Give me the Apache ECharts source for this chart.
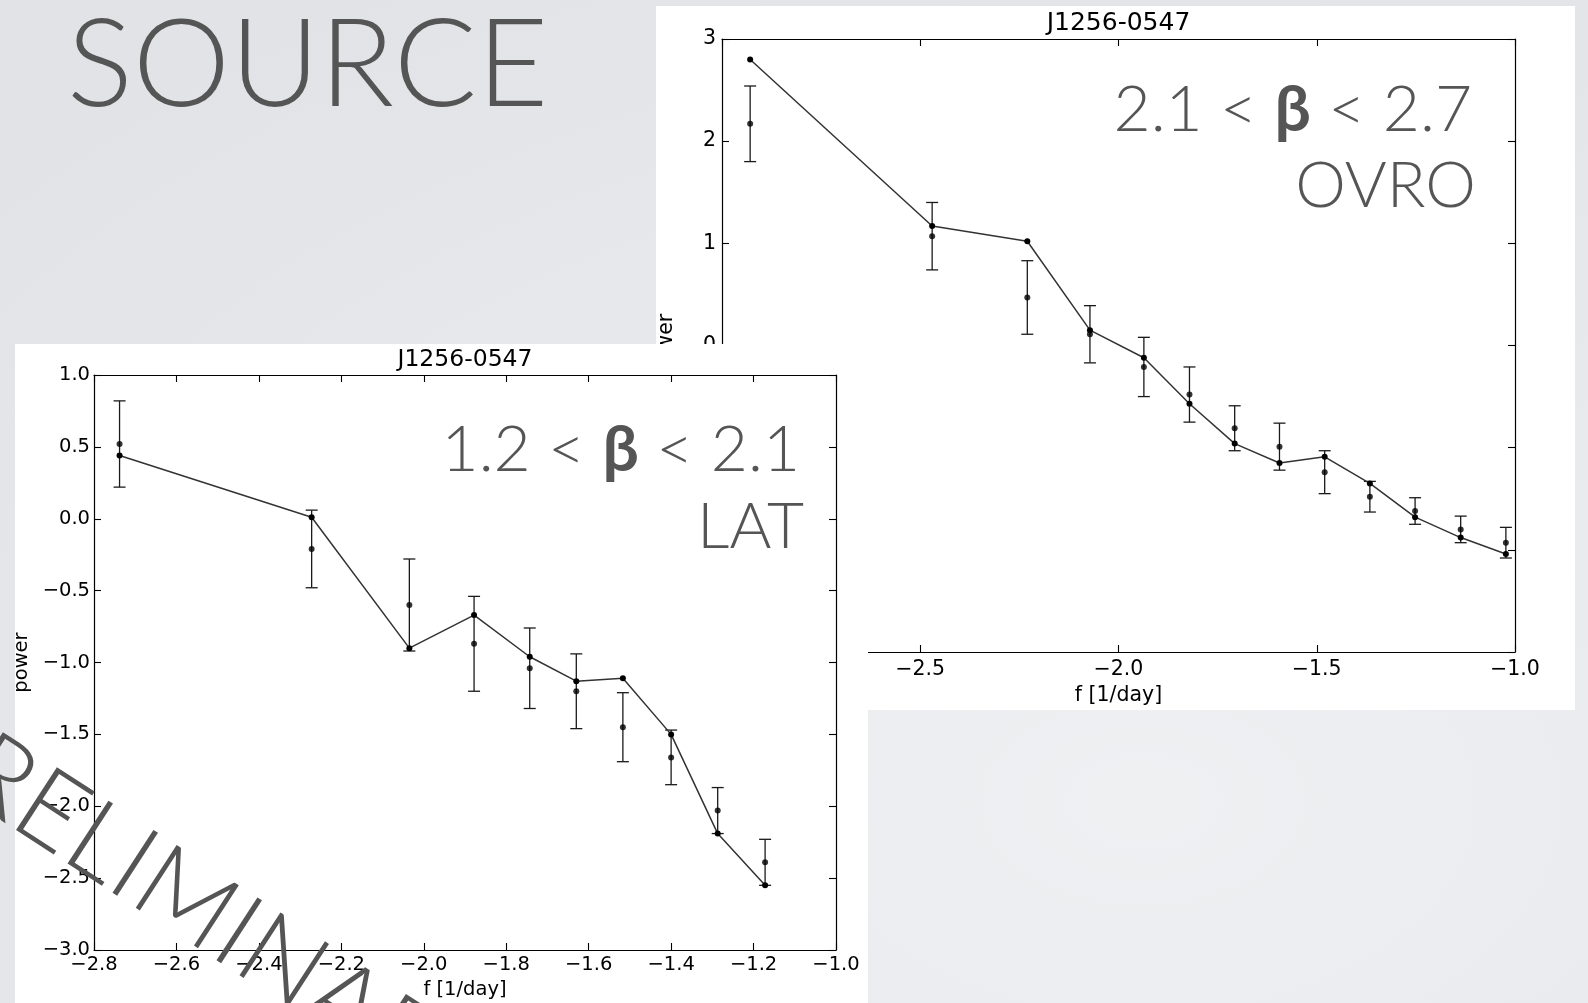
<!DOCTYPE html>
<html>
<head>
<meta charset="utf-8">
<title>SOURCE – J1256-0547 periodograms</title>
<script src="https://cdn.jsdelivr.net/npm/echarts@6/dist/echarts.min.js"></script>
<style>
  html, body { margin: 0; padding: 0; }
  body {
    width: 1588px; height: 1003px; overflow: hidden;
    background: radial-gradient(ellipse 95% 95% at 72% 80%, #eff0f2 0%, #e9eaed 45%, #e2e3e7 100%);
  }
  #slide { width: 1588px; height: 1003px; }
</style>
</head>
<body>
<div id="slide"></div>
<script>
// ---- OVRO (radio), 2.1 < beta < 2.7 ----
const ovroFreq  = [-2.929, -2.470, -2.230, -2.072, -1.936, -1.821, -1.707, -1.594, -1.480, -1.366, -1.252, -1.137, -1.023];
const ovroModel = [2.80, 1.17, 1.02, 0.15, -0.12, -0.57, -0.96, -1.15, -1.09, -1.35, -1.68, -1.88, -2.04];
const ovroPower = [2.17, 1.07, 0.47, 0.11, -0.21, -0.48, -0.81, -0.99, -1.24, -1.48, -1.62, -1.80, -1.93];
const ovroErr   = [0.37, 0.33, 0.36, 0.28, 0.29, 0.27, 0.22, 0.23, 0.21, 0.15, 0.13, 0.13, 0.15];
const ovroXAxis = [-3.0, -1.0, 0.5];   // min, max, step
const ovroYAxis = [-3, 3, 1];

// ---- LAT (gamma), 1.2 < beta < 2.1 ----
const latFreq  = [-2.738, -2.272, -2.035, -1.878, -1.743, -1.630, -1.517, -1.400, -1.287, -1.172];
const latModel = [0.44, 0.01, -0.90, -0.67, -0.96, -1.13, -1.11, -1.50, -2.19, -2.55];
const latPower = [0.52, -0.21, -0.60, -0.87, -1.04, -1.20, -1.45, -1.66, -2.03, -2.39];
const latErr   = [0.30, 0.27, 0.32, 0.33, 0.28, 0.26, 0.24, 0.19, 0.16, 0.16];
const latXAxis = [-2.8, -1.0, 0.2];
const latYAxis = [-3.0, 1.0, 0.5];

const sourceName = 'J1256-0547';

const minusSign = s => s.replace('-', '\u2212');
const fmt1 = v => minusSign((Math.round(v * 10) / 10).toFixed(1));
const fmt0 = v => minusSign(String(Math.round(v)));

const TICK = '#000';
const FONT = 'DejaVu Sans';
const SLIDE_FONT = 'Lato';
const SLIDE_GREY = '#555555';

function axis(grid, range, opts) {
  return Object.assign({
    type: 'value', gridIndex: grid,
    min: range[0], max: range[1], interval: range[2],
    axisLine: { show: true, onZero: false, lineStyle: { color: '#000', width: 1.2 } },
    axisTick: { show: true, inside: true, length: 7, lineStyle: { color: '#000', width: 1.1 } },
    splitLine: { show: false },
    axisLabel: { show: false },
    animation: false
  }, opts);
}

function labels(size, fmt, margin) {
  return { show: true, color: TICK, fontFamily: FONT, fontSize: size, margin: margin,
           formatter: fmt, showMinLabel: true, showMaxLabel: true };
}

function errorBars(freq, power, err, xi, yi, z) {
  return {
    type: 'custom', xAxisIndex: xi, yAxisIndex: yi, z: z, silent: true, clip: false,
    data: freq.map((f, i) => [f, power[i] - err[i], power[i] + err[i]]),
    encode: { x: 0, y: [1, 2] },
    renderItem(params, api) {
      const lo = api.coord([api.value(0), api.value(1)]);
      const hi = api.coord([api.value(0), api.value(2)]);
      const w = 6;
      const st = { stroke: '#1a1a1a', lineWidth: 1.3 };
      return { type: 'group', children: [
        { type: 'line', shape: { x1: lo[0], y1: lo[1], x2: hi[0], y2: hi[1] }, style: st },
        { type: 'line', shape: { x1: lo[0] - w, y1: lo[1], x2: lo[0] + w, y2: lo[1] }, style: st },
        { type: 'line', shape: { x1: hi[0] - w, y1: hi[1], x2: hi[0] + w, y2: hi[1] }, style: st }
      ]};
    }
  };
}

function modelLine(freq, model, xi, yi, z) {
  return {
    type: 'line', xAxisIndex: xi, yAxisIndex: yi, z: z, silent: true,
    data: freq.map((f, i) => [f, model[i]]),
    symbol: 'circle', symbolSize: 6, showAllSymbol: true,
    lineStyle: { color: '#333', width: 1.5 },
    itemStyle: { color: '#000', borderWidth: 0 }
  };
}

function dataPoints(freq, power, xi, yi, z) {
  return {
    type: 'scatter', xAxisIndex: xi, yAxisIndex: yi, z: z, silent: true,
    data: freq.map((f, i) => [f, power[i]]),
    symbol: 'circle', symbolSize: 6,
    itemStyle: { color: '#000' }
  };
}

function slideText(text, x, y, size, align, z, extra) {
  return Object.assign({
    type: 'text', x: x, y: y, z: z, silent: true,
    style: { text: text, fill: SLIDE_GREY, font: '300 ' + size + 'px ' + SLIDE_FONT,
             textAlign: align, textVerticalAlign: 'middle' }
  }, extra || {});
}

function betaRange(lo, hi, x, y, z) {
  return {
    type: 'text', x: x, y: y, z: z, silent: true,
    style: {
      text: '{n|' + lo + ' < }{b|\u03b2}{n| < ' + hi + '}',
      textAlign: 'right', textVerticalAlign: 'middle',
      rich: {
        n: { fill: SLIDE_GREY, fontFamily: SLIDE_FONT, fontWeight: 300, fontSize: 64 },
        b: { fill: SLIDE_GREY, fontFamily: SLIDE_FONT, fontWeight: 'bold', fontSize: 64 }
      }
    }
  };
}

const chart = echarts.init(document.getElementById('slide'), null, { renderer: 'canvas' });

chart.setOption({
  animation: false,
  backgroundColor: 'transparent',
  grid: [
    { left: 722, top: 39, width: 793, height: 613, containLabel: false, outerBoundsMode: 'none' },
    { left: 94, top: 375, width: 742, height: 575, containLabel: false, outerBoundsMode: 'none' }
  ],
  xAxis: [
    axis(0, ovroXAxis, { position: 'bottom', z: 1, axisLabel: labels(20.5, fmt1, 7),
      name: 'f [1/day]', nameLocation: 'middle', nameGap: 25,
      nameTextStyle: { color: TICK, fontFamily: FONT, fontSize: 20.5 } }),
    axis(0, ovroXAxis, { position: 'top', z: 1 }),
    axis(1, latXAxis, { position: 'bottom', z: 11, axisLabel: labels(19.5, fmt1, 5),
      name: 'f [1/day]', nameLocation: 'middle', nameGap: 27,
      nameTextStyle: { color: TICK, fontFamily: FONT, fontSize: 19.5 } }),
    axis(1, latXAxis, { position: 'top', z: 11 })
  ],
  yAxis: [
    axis(0, ovroYAxis, { position: 'left', z: 1, axisLabel: labels(20.5, fmt0, 6),
      name: 'power', nameLocation: 'middle', nameGap: 45, nameRotate: 90,
      nameTextStyle: { color: TICK, fontFamily: FONT, fontSize: 20.5 } }),
    axis(0, ovroYAxis, { position: 'right', z: 1 }),
    axis(1, latYAxis, { position: 'left', z: 11, axisLabel: labels(19.5, fmt1, 4),
      name: 'power', nameLocation: 'middle', nameGap: 62, nameRotate: 90,
      nameTextStyle: { color: TICK, fontFamily: FONT, fontSize: 19.5 } }),
    axis(1, latYAxis, { position: 'right', z: 11 })
  ],
  graphic: { elements: [
    // slide heading
    slideText('SOURCE', 67, 66, 123, 'left', 0),
    // OVRO panel
    { type: 'rect', z: 0, silent: true, shape: { x: 656, y: 6, width: 919, height: 704 },
      style: { fill: '#ffffff' } },
    { type: 'text', z: 1, silent: true, x: 1118.5, y: 23.5,
      style: { text: sourceName, fill: '#000', font: '25px ' + FONT, textAlign: 'center', textVerticalAlign: 'middle' } },
    betaRange('2.1', '2.7', 1472, 110, 3),
    slideText('OVRO', 1476, 186, 64, 'right', 3),
    // LAT panel, lying over the OVRO one
    { type: 'rect', z: 10, silent: true, shape: { x: 15, y: 344, width: 853, height: 670 },
      style: { fill: '#ffffff' } },
    { type: 'text', z: 11, silent: true, x: 465, y: 360,
      style: { text: sourceName, fill: '#000', font: '23.5px ' + FONT, textAlign: 'center', textVerticalAlign: 'middle' } },
    betaRange('1.2', '2.1', 800, 450, 15),
    slideText('LAT', 804, 527, 64, 'right', 15),
    // diagonal stamp
    slideText('PRELIMINARY', -80, 727, 106, 'left', 20, { rotation: -33 * Math.PI / 180 })
  ]},
  series: [
    errorBars(ovroFreq, ovroPower, ovroErr, 0, 0, 2),
    modelLine(ovroFreq, ovroModel, 0, 0, 3),
    dataPoints(ovroFreq, ovroPower, 0, 0, 4),
    errorBars(latFreq, latPower, latErr, 2, 2, 12),
    modelLine(latFreq, latModel, 2, 2, 13),
    dataPoints(latFreq, latPower, 2, 2, 14)
  ]
});
</script>
</body>
</html>
